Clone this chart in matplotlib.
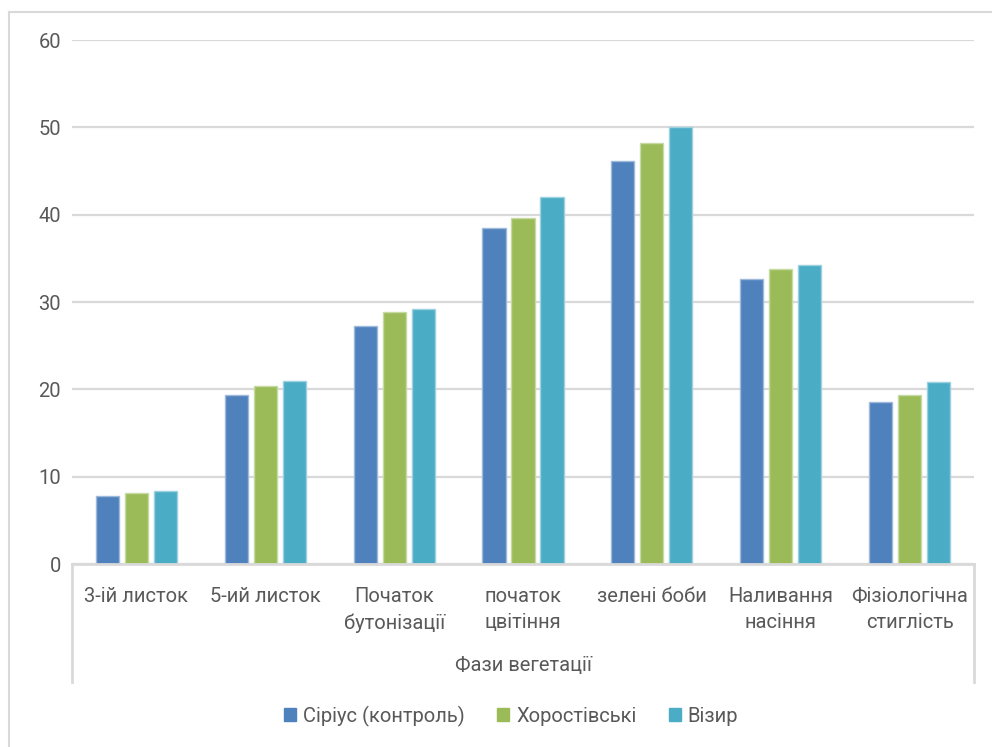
import matplotlib
matplotlib.use("Agg")
import matplotlib.pyplot as plt
from matplotlib.lines import Line2D
from matplotlib.colors import to_rgb
import numpy as np

plt.rcParams['font.family'] = ['Roboto', 'DejaVu Sans']

phases = ["3-ій листок", "5-ий листок", "Початок\nбутонізації", "початок\nцвітіння",
          "зелені боби", "Наливання\nнасіння", "Фізіологічна\nстиглість"]
series_names = ["Сіріус (контроль)", "Хоростівські", "Візир"]
sirius = [7.8, 19.3, 27.3, 38.5, 46.2, 32.6, 18.6]
khorostivski = [8.1, 20.4, 28.8, 39.6, 48.2, 33.8, 19.3]
vizyr = [8.4, 21.0, 29.2, 42.0, 50.0, 34.2, 20.8]
y_ticks = [0, 10, 20, 30, 40, 50, 60]
axis_title = "Фази вегетації"

colors = ["#4F81BD", "#9BBB59", "#4BACC6"]
text_color = "#595959"
grid_color = "#D9D9D9"
fs = 14.5

W, H = 992, 747
fig = plt.figure(figsize=(W / 100, H / 100), dpi=100)

def fx(px):
    return px / W

def fy(py):
    return 1 - py / H

left, right, top, bottom = 72, 974, 40, 564
ax = fig.add_axes([fx(left), fy(bottom), fx(right - left), fy(top) - fy(bottom)])

x = np.arange(len(phases))
width = 0.18
offset = 0.225

def lighten(c, amt=0.45):
    r, g, b = to_rgb(c)
    return (r + (1 - r) * amt, g + (1 - g) * amt, b + (1 - b) * amt)

for i, (vals, col, name) in enumerate(zip([sirius, khorostivski, vizyr], colors, series_names)):
    ax.bar(x + (i - 1) * offset, vals, width, color=col, edgecolor=lighten(col),
           linewidth=1.0, label=name, zorder=3)

ax.set_xlim(-0.5, len(phases) - 0.5)
ax.set_ylim(0, 60)
ax.set_yticks(y_ticks)
ax.yaxis.grid(True, color=grid_color, linewidth=1.6, zorder=0)
ax.set_axisbelow(True)
for s in ["left", "right", "top"]:
    ax.spines[s].set_visible(False)
ax.spines["bottom"].set_color(grid_color)
ax.spines["bottom"].set_linewidth(2)
ax.spines["bottom"].set_zorder(4)
ax.tick_params(axis="y", length=0, pad=8, labelsize=fs, labelcolor=text_color)
ax.tick_params(axis="x", length=0)
ax.set_xticks([])

# category labels of the two-level axis
for xi, lab in zip(x, phases):
    ax.text(xi, -2.6, lab, ha="center", va="top", fontsize=fs, color=text_color,
            linespacing=1.5, clip_on=False)

fig.text(0.5 * (fx(left) + fx(right)), fy(666), axis_title, ha="center", va="center",
         fontsize=fs, color=text_color)

# box lines of the category axis
for px in (left, right):
    fig.add_artist(Line2D([fx(px), fx(px)], [fy(bottom), fy(682)], color=grid_color, linewidth=2))

# outer chart border
fig.add_artist(Line2D([fx(9), fx(9)], [fy(12), 0], color=grid_color, linewidth=1.5))
fig.add_artist(Line2D([fx(9), 1], [fy(12), fy(12)], color=grid_color, linewidth=1.5))

handles = [plt.Rectangle((0, 0), 1, 1, color=c) for c in colors]
fig.legend(handles, series_names, loc="center", bbox_to_anchor=(fx(511), fy(716)),
           ncol=3, frameon=False, fontsize=fs, handlelength=0.6, handleheight=0.6,
           handletextpad=0.35, columnspacing=1.6, labelcolor=text_color)

fig.savefig("out.png", dpi=100)
